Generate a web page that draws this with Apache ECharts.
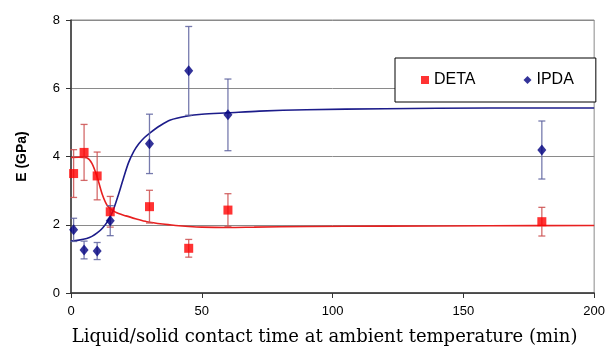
<!DOCTYPE html>
<html><head><meta charset="utf-8">
<script src="https://cdn.jsdelivr.net/npm/echarts@6/dist/echarts.min.js"></script>
<style>html,body{margin:0;padding:0;background:#fff}#c{width:608px;height:352px}</style>
</head><body><div id="c"></div>
<script>
const detaTime = [1, 5, 10, 15, 30, 45, 60, 180];
const detaE    = [3.5, 4.12, 3.43, 2.38, 2.53, 1.31, 2.43, 2.09];
const detaErr  = [0.7, 0.82, 0.7, 0.45, 0.48, 0.26, 0.48, 0.42];
const ipdaTime = [1, 5, 10, 15, 30, 45, 60, 180];
const ipdaE    = [1.85, 1.26, 1.23, 2.12, 4.37, 6.51, 5.22, 4.19];
const ipdaErr  = [0.34, 0.26, 0.25, 0.44, 0.87, 1.3, 1.05, 0.85];
// fitted curves
const detaFitT = [0, 3, 6, 8, 10, 12, 14, 17, 21, 25, 29, 35, 40, 45, 50, 60, 70, 90, 120, 160, 200];
const detaFitE = [3.97, 3.98, 3.96, 3.8, 3.4, 2.88, 2.55, 2.37, 2.26, 2.17, 2.09, 2.02, 1.98, 1.95, 1.93, 1.92, 1.93, 1.95, 1.96, 1.97, 1.98];
const ipdaFitT = [0, 3, 6, 8, 10, 12, 14, 16, 18, 20, 22, 24, 26, 28, 30, 34, 38, 44, 50, 60, 72, 90, 120, 160, 200];
const ipdaFitE = [1.52, 1.55, 1.6, 1.66, 1.76, 1.9, 2.1, 2.4, 2.85, 3.35, 3.82, 4.15, 4.38, 4.55, 4.68, 4.9, 5.07, 5.18, 5.24, 5.28, 5.33, 5.37, 5.4, 5.42, 5.42];
const xTicks = [0, 50, 100, 150, 200];
const yTicks = [0, 2, 4, 6, 8];

const zip = (a, b) => a.map((v, i) => [v, b[i]]);
const errData = (t, e, d) => t.map((v, i) => [v, e[i] - d[i], e[i] + d[i]]);

function errRender(color) {
  return function (params, api) {
    const x = api.value(0);
    const lo = api.coord([x, api.value(1)]);
    const hi = api.coord([x, api.value(2)]);
    const w = 3.5;
    const st = { stroke: color, lineWidth: 1.3 };
    return { type: 'group', children: [
      { type: 'line', shape: { x1: lo[0], y1: lo[1], x2: hi[0], y2: hi[1] }, style: st },
      { type: 'line', shape: { x1: lo[0] - w, y1: lo[1], x2: lo[0] + w, y2: lo[1] }, style: st },
      { type: 'line', shape: { x1: hi[0] - w, y1: hi[1], x2: hi[0] + w, y2: hi[1] }, style: st }
    ]};
  };
}

const chart = echarts.init(document.getElementById('c'), null, { renderer: 'canvas' });
chart.setOption({
  animation: false,
  backgroundColor: '#fff',
  grid: { left: 71, right: 11, top: 20, bottom: 59, show: true, borderColor: '#8a8a8a', borderWidth: 1 },
  legend: {
    left: 395, top: 58,
    padding: [14, 22, 14, 26],
    backgroundColor: '#fff', borderColor: '#000', borderWidth: 1,
    itemWidth: 8, itemHeight: 8, itemGap: 48,
    textStyle: { fontFamily: 'Liberation Sans', fontSize: 16, color: '#000' },
    data: [
      { name: 'DETA', icon: 'rect', itemStyle: { color: '#ff0000' } },
      { name: 'IPDA', icon: 'diamond', itemStyle: { color: '#000080' } }
    ]
  },
  xAxis: {
    type: 'value', min: xTicks[0], max: xTicks[xTicks.length - 1], interval: 50,
    name: 'Liquid/solid contact time at ambient temperature (min)',
    nameLocation: 'middle', nameGap: 35,
    nameTextStyle: { fontFamily: 'DejaVu Serif', fontSize: 18, color: '#000', padding: [0, 16, 0, 0] },
    axisLine: { lineStyle: { color: '#333', width: 1.5 } },
    axisTick: { show: true, length: 5, lineStyle: { color: '#333' } },
    axisLabel: { fontFamily: 'Liberation Sans', fontSize: 13, color: '#000', margin: 12 },
    splitLine: { show: false }
  },
  yAxis: {
    type: 'value', min: yTicks[0], max: yTicks[yTicks.length - 1], interval: 2,
    name: 'E (GPa)', nameLocation: 'middle', nameGap: 42, nameRotate: 90,
    nameTextStyle: { fontFamily: 'Liberation Sans', fontSize: 14, fontWeight: 'bold', color: '#000' },
    axisLine: { show: true, lineStyle: { color: '#333', width: 1.5 } },
    axisTick: { show: true, length: 5, lineStyle: { color: '#333' } },
    axisLabel: { fontFamily: 'Liberation Sans', fontSize: 13, color: '#000', margin: 11 },
    splitLine: { show: true, lineStyle: { color: '#8a8a8a', width: 1 } }
  },
  series: [
    { name: 'DETA fit', type: 'line', data: zip(detaFitT, detaFitE), smooth: 0.3, showSymbol: false,
      lineStyle: { color: '#e82020', width: 1.6 }, z: 2, silent: true },
    { name: 'IPDA fit', type: 'line', data: zip(ipdaFitT, ipdaFitE), smooth: 0.3, showSymbol: false,
      lineStyle: { color: '#1c1c8a', width: 1.6 }, z: 2, silent: true },
    { name: 'DETA err', type: 'custom', renderItem: errRender('rgba(205,80,80,0.85)'),
      data: errData(detaTime, detaE, detaErr), encode: { x: 0, y: [1, 2] }, z: 3 },
    { name: 'IPDA err', type: 'custom', renderItem: errRender('rgba(95,100,160,0.85)'),
      data: errData(ipdaTime, ipdaE, ipdaErr), encode: { x: 0, y: [1, 2] }, z: 3 },
    { name: 'DETA', type: 'scatter', data: zip(detaTime, detaE), symbol: 'rect', symbolSize: 9,
      itemStyle: { color: '#ff0000' }, z: 4 },
    { name: 'IPDA', type: 'scatter', data: zip(ipdaTime, ipdaE), symbol: 'diamond', symbolSize: [9, 11],
      itemStyle: { color: '#000080' }, z: 4 }
  ]
});
</script></body></html>
